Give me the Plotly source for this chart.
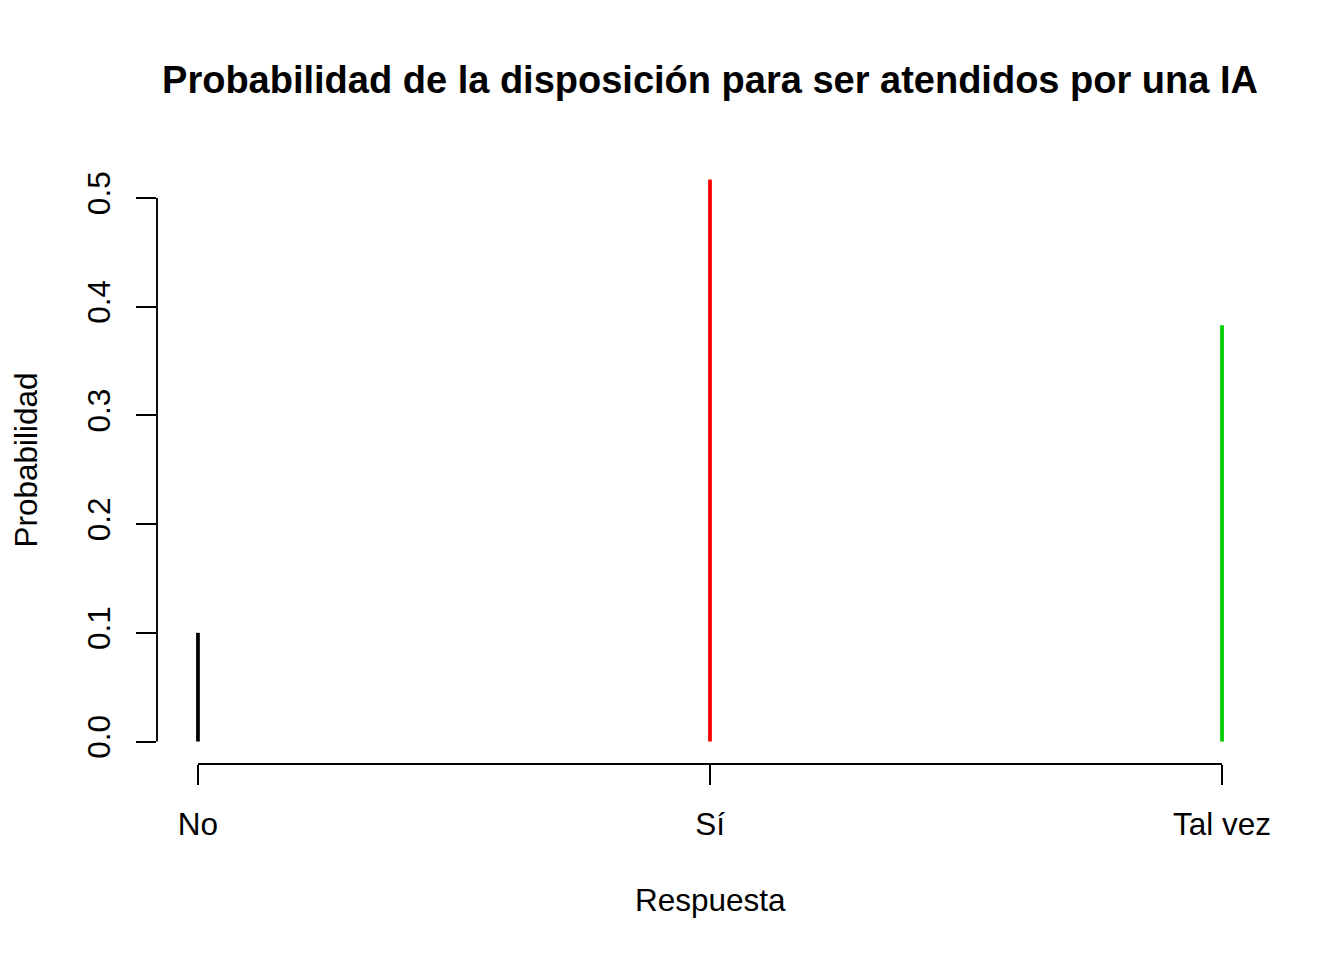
import plotly.graph_objects as go

# Data
categories = ["No", "Sí", "Tal vez"]
probabilities = [0.100, 0.517, 0.383]
line_colors = ["#000000", "#FF0000", "#00CD00"]
y_tick_values = [0.0, 0.1, 0.2, 0.3, 0.4, 0.5]
y_tick_labels = ["0.0", "0.1", "0.2", "0.3", "0.4", "0.5"]

title_text = "Probabilidad de la disposición para ser atendidos por una IA"
x_title = "Respuesta"
y_title = "Probabilidad"

W, H = 1344, 960
L, R, T, B = 157, 81, 157, 196
FONT = "Arial, Liberation Sans, sans-serif"
BASE = 31.5

fig = go.Figure()
for cat, p, col in zip(categories, probabilities, line_colors):
    fig.add_trace(go.Scatter(
        x=[cat, cat], y=[0, p], mode="lines",
        line=dict(color=col, width=3.75),
        showlegend=False, hoverinfo="skip",
    ))

n = len(categories)
pad_x = 0.04 * (n - 1)
ymax = max(probabilities)
y_range = [-0.04 * ymax, ymax * 1.04]

plot_h = H - T - B

fig.update_layout(
    width=W, height=H,
    margin=dict(l=L, r=R, t=T, b=B, pad=0),
    paper_bgcolor="white", plot_bgcolor="white",
    font=dict(family=FONT, size=BASE, color="black"),
    title=dict(
        text="<b>" + title_text + "</b>",
        font=dict(family=FONT, size=38, color="black"),
        x=0.5, xref="paper", xanchor="center",
        y=1 - 80 / H, yref="container", yanchor="middle",
    ),
    xaxis=dict(
        type="category", categoryorder="array", categoryarray=categories,
        range=[-pad_x, (n - 1) + pad_x],
        showgrid=False, zeroline=False, showline=False,
        ticks="outside", ticklen=20, tickwidth=1.9, tickcolor="black",
        ticklabelstandoff=12,
        tickfont=dict(family=FONT, size=BASE, color="black"),
    ),
    yaxis=dict(
        range=y_range,
        tickvals=y_tick_values, ticktext=y_tick_labels,
        showgrid=False, zeroline=False, showline=False,
        ticks="outside", ticklen=20, tickwidth=1.9, tickcolor="black",
        tickangle=-90, ticklabelstandoff=13,
        tickfont=dict(family=FONT, size=BASE, color="black"),
    ),
    shapes=[
        dict(type="line", xref="x", yref="paper",
             x0=categories[0], x1=categories[-1], y0=0, y1=0,
             line=dict(color="black", width=1.9)),
        dict(type="line", xref="paper", yref="y",
             x0=0, x1=0, y0=y_tick_values[0], y1=y_tick_values[-1],
             line=dict(color="black", width=1.9)),
    ],
    annotations=[
        dict(text=x_title, xref="paper", yref="paper",
             x=0.5, y=-(900 - (H - B)) / plot_h,
             xanchor="center", yanchor="middle", showarrow=False,
             font=dict(family=FONT, size=BASE, color="black")),
        dict(text=y_title, xref="paper", yref="paper",
             x=-(L - 25) / (W - L - R), y=0.5, textangle=-90,
             xanchor="center", yanchor="middle", showarrow=False,
             font=dict(family=FONT, size=BASE, color="black")),
    ],
)

fig.write_html("out.html")
